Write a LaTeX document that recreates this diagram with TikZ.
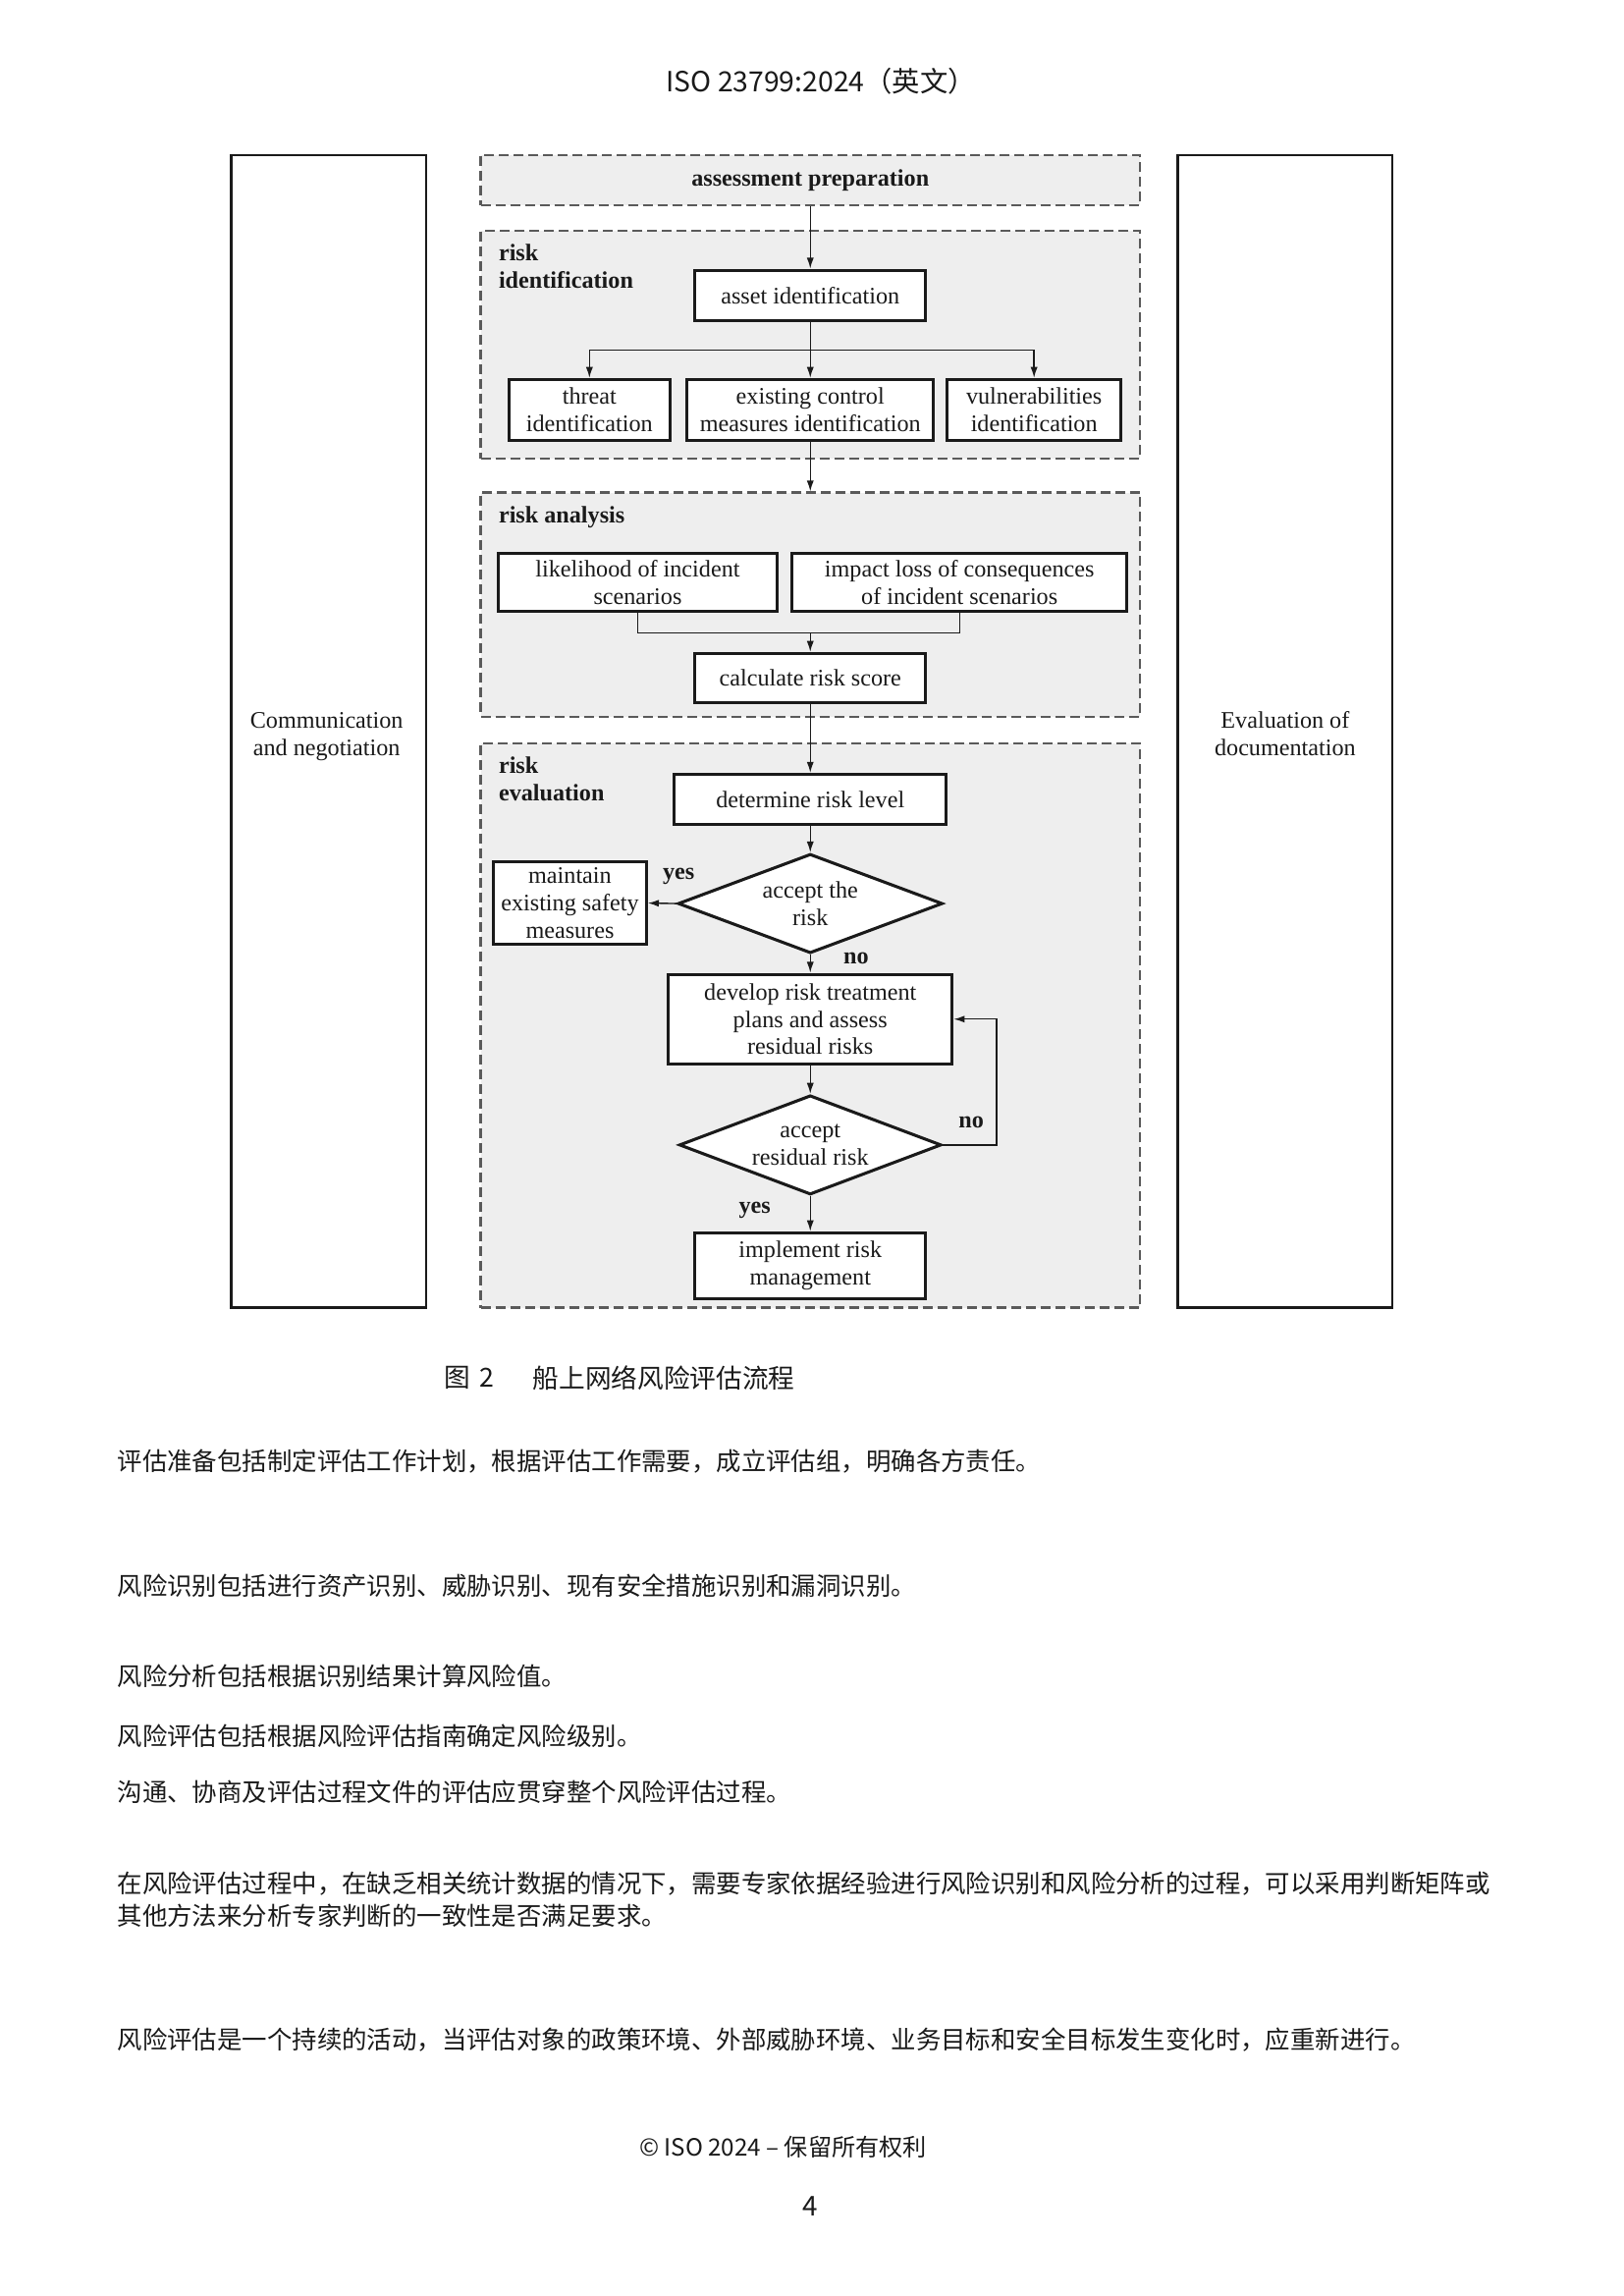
\documentclass[tikz,border=0pt]{standalone}
\usepackage{fontspec}
\setmainfont{Liberation Serif}
\newfontfamily\cjk{Noto Sans CJK SC}
\usetikzlibrary{arrows.meta,shapes.geometric}
\definecolor{grpfill}{HTML}{EEEEEE}
\definecolor{grpline}{HTML}{5A5A5A}
\definecolor{ink}{HTML}{1A1A1A}
\newcommand\diafont{\fontsize{8.7}{10}\selectfont}
\newcommand\bodyfont{\cjk\fontsize{9.15}{12}\selectfont}
\begin{document}
\begin{tikzpicture}[x=0.3575pt,y=-0.3575pt,
  grp/.style={draw=grpline, fill=grpfill, line width=0.8pt, dash pattern=on 3.6pt off 1.8pt, inner sep=0pt},
  box/.style={draw=ink, fill=white, line width=1.1pt, align=center, inner sep=0pt, font=\diafont, text=ink},
  side/.style={draw=ink, line width=0.9pt, align=center, inner sep=0pt, font=\diafont, text=ink},
  dia/.style={box, diamond, aspect=2.6},
  lbl/.style={font=\diafont\bfseries, align=left, anchor=west, inner sep=0pt, text=ink},
  yn/.style={font=\diafont\bfseries, inner sep=0pt, text=ink},
  arr/.style={-{Latex[length=4pt,width=2.6pt]}, line width=0.5pt, draw=ink},
  ln/.style={line width=0.5pt, draw=ink},
  body/.style={font=\bodyfont, anchor=west, inner sep=0pt, text=ink}
]
\useasboundingbox[fill=white] (0,0) rectangle (1664.6,2354.3);

% header
\node[font=\cjk\fontsize{10.2}{12}\selectfont, text=ink] (hdr) at (842,83) {ISO 23799:2024（英文）};

% side boxes
\node[side, minimum width=71.5pt, minimum height=422.5pt] (comm) at (337,750) {};
\node[font=\diafont, align=center, text=ink] (commtxt) at (335,755) {Communication\\and negotiation};
\node[side, minimum width=78.6pt, minimum height=422.5pt] (evdoc) at (1318,750) {};
\node[font=\diafont, align=center, text=ink] (evdoctxt) at (1318,752) {Evaluation of\\documentation};

% groups
\node[grp, minimum width=241.7pt, minimum height=18.3pt, font=\diafont\bfseries, text=ink] (prep) at (831,184.5) {assessment preparation};
\node[grp, minimum width=241.7pt, minimum height=83.3pt] (idgrp) at (831,353.5) {};
\node[grp, minimum width=241.7pt, minimum height=82.2pt] (angrp) at (831,620) {};
\node[grp, minimum width=241.7pt, minimum height=206.9pt] (evgrp) at (831,1051.5) {};

\node[lbl] (idlbl) at (511,273) {risk\\identification};
\node[lbl] (anlbl) at (511,530) {risk analysis};
\node[lbl] (evlbl) at (511,799) {risk\\evaluation};

% risk identification
\node[box, minimum width=84.7pt, minimum height=18.6pt] (asset) at (831,303) {asset identification};
\node[box, minimum width=59pt, minimum height=22.5pt] (threat) at (604.5,420.5) {threat\\identification};
\node[box, minimum width=90.5pt, minimum height=22.5pt] (exist) at (831,420.5) {existing control\\measures identification};
\node[box, minimum width=63.9pt, minimum height=22.5pt] (vuln) at (1060.5,420.5) {vulnerabilities\\identification};
\coordinate (br) at (831,359);

% risk analysis
\node[box, minimum width=102.3pt, minimum height=21.4pt] (like) at (654,597) {likelihood of incident\\scenarios};
\node[box, minimum width=122.9pt, minimum height=21.4pt] (impact) at (984,597) {impact loss of consequences\\of incident scenarios};
\node[box, minimum width=84.7pt, minimum height=17.9pt] (calc) at (831,695) {calculate risk score};
\coordinate (mg) at (831,649);

% risk evaluation
\node[box, minimum width=99.7pt, minimum height=18.3pt] (det) at (831,819.5) {determine risk level};
\node[dia, minimum width=97pt, minimum height=36.4pt] (d1) at (831,926.5) {accept the\\risk};
\node[box, minimum width=56.1pt, minimum height=30pt] (maint) at (584.5,926) {maintain\\existing safety\\measures};
\node[box, minimum width=104.1pt, minimum height=32.9pt] (dev) at (831,1045) {develop risk treatment\\plans and assess\\residual risks};
\node[dia, minimum width=96.1pt, minimum height=36.4pt] (d2) at (831,1174) {accept\\residual risk};
\node[box, minimum width=84.7pt, minimum height=24.3pt] (impl) at (831,1298) {implement risk\\management};
\coordinate (lp) at (1022,1174);

\node[yn] (yes1) at (696,899) {yes};
\node[yn] (no1) at (878,983) {no};
\node[yn] (no2) at (996,1151) {no};
\node[yn] (yes2) at (774,1241) {yes};

% connectors
\draw[arr] (prep.south) -- (asset.north);
\draw[arr] (asset.south) -- (exist.north);
\draw[arr] (br) -| (threat.north);
\draw[arr] (br) -| (vuln.north);
\draw[arr] (exist.south) -- (angrp.north);
\draw[ln] (like.south) |- (mg) -| (impact.south);
\draw[arr] (mg) -- (calc.north);
\draw[arr] (calc.south) -- (det.north);
\draw[arr] (det.south) -- (d1.north);
\draw[arr] (d1.west) -- (maint.east);
\draw[arr] (d1.south) -- (dev.north);
\draw[arr] (dev.south) -- (d2.north);
\draw[arr] (d2.east) -- (lp) |- (dev.east);
\draw[arr] (d2.south) -- (impl.north);

% caption
\node[font=\cjk\fontsize{9.6}{12}\selectfont, anchor=west, inner sep=0pt, text=ink] (capn) at (455,1413) {图\hspace{0.35em}2};
\node[font=\cjk\fontsize{9.6}{12}\selectfont, anchor=west, inner sep=0pt, text=ink] (capt) at (546,1413) {船上网络风险评估流程};

% body text
\node[body] (t1) at (120,1498) {评估准备包括制定评估工作计划，根据评估工作需要，成立评估组，明确各方责任。};
\node[body] (t2) at (120,1626) {风险识别包括进行资产识别、威胁识别、现有安全措施识别和漏洞识别。};
\node[body] (t3) at (120,1719) {风险分析包括根据识别结果计算风险值。};
\node[body] (t4) at (120,1780) {风险评估包括根据风险评估指南确定风险级别。};
\node[body] (t5) at (120,1838) {沟通、协商及评估过程文件的评估应贯穿整个风险评估过程。};
\node[body] (t6) at (120,1931) {在风险评估过程中，在缺乏相关统计数据的情况下，需要专家依据经验进行风险识别和风险分析的过程，可以采用判断矩阵或};
\node[body] (t7) at (120,1964) {其他方法来分析专家判断的一致性是否满足要求。};
\node[body] (t8) at (120,2092) {风险评估是一个持续的活动，当评估对象的政策环境、外部威胁环境、业务目标和安全目标发生变化时，应重新进行。};

% footer
\node[font=\cjk\fontsize{8.7}{11}\selectfont, text=ink] (foot) at (803,2202) {© ISO 2024 – 保留所有权利};
\node[font=\cjk\fontsize{10}{12}\selectfont, text=ink] (pg) at (831,2262) {4};
\end{tikzpicture}
\end{document}
